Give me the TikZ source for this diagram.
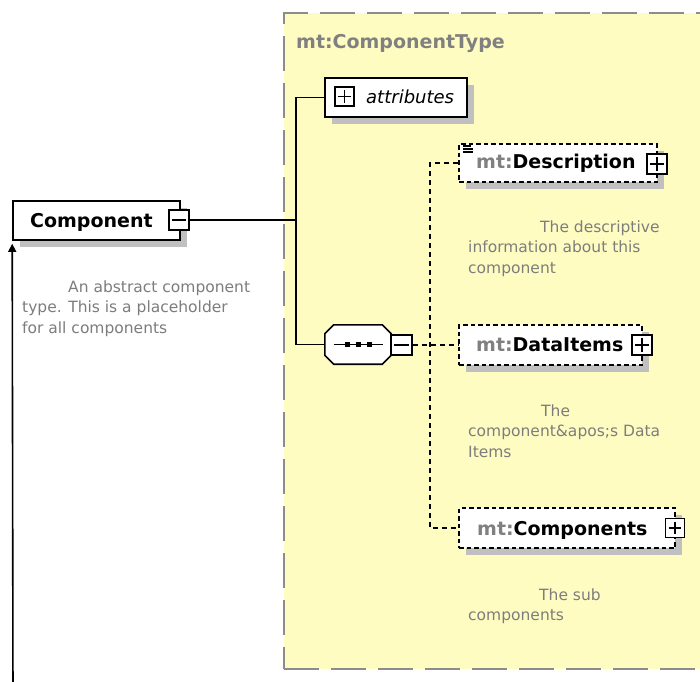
\documentclass[tikz,border=0pt]{standalone}
\usepackage{fontspec}
\setmainfont{DejaVu Sans}
\usetikzlibrary{arrows.meta,calc}

\definecolor{paneyellow}{RGB}{255,252,194}
\definecolor{paneborder}{RGB}{140,140,140}
\definecolor{shadowgray}{RGB}{192,192,192}
\definecolor{docgray}{RGB}{125,125,125}
\definecolor{prefixgray}{RGB}{128,128,128}

\tikzset{
  pane/.style={draw=paneborder, fill=paneyellow, line width=1.6pt,
    dash pattern=on 35pt off 12pt, inner sep=0pt},
  panetitle/.style={inner sep=0pt, text=prefixgray,
    font=\fontsize{19}{23}\selectfont\bfseries},
  boxshadow/.style={preaction={draw=none, fill=shadowgray,
    transform canvas={xshift=7pt, yshift=-7pt}}},
  elembox/.style={draw=black, fill=white, line width=1.6pt, inner sep=0pt,
    boxshadow},
  optbox/.style={elembox, dash pattern=on 4.5pt off 3pt},
  togglebox/.style={draw=black, fill=white, line width=1.5pt, inner sep=0pt,
    minimum width=20pt, minimum height=20pt},
  nametext/.style={inner sep=0pt, font=\fontsize{19}{23}\selectfont\bfseries},
  attrtext/.style={inner sep=0pt, font=\fontsize{18}{22}\selectfont\itshape},
  doctext/.style={inner sep=0pt, align=left, text=docgray,
    font=\fontsize{15.5}{20.5}\selectfont},
  link/.style={draw=black, line width=1.6pt},
  dashlink/.style={draw=black, line width=1.6pt, dash pattern=on 5pt off 4pt},
  signline/.style={line width=1.4pt},
}

% minus sign inside a toggle box
\newcommand\minussign[1]{%
  \draw[signline] ([xshift=4pt]#1.west) -- ([xshift=-4pt]#1.east);}
% plus sign inside a toggle box
\newcommand\plussign[1]{%
  \minussign{#1}
  \draw[signline] ([yshift=-4pt]#1.north) -- ([yshift=4pt]#1.south);}

\begin{document}
\begin{tikzpicture}[x=1pt, y=-1pt]
\useasboundingbox (0,0) rectangle (700,681);
\clip (0,0) rectangle (700,681);
\fill[white] (0,0) rectangle (700,681);

% complex type container
\node[pane, minimum width=436pt, minimum height=656pt] (pane) at (502,341) {};
\node[panetitle, anchor=base west] (panetitle) at (296,48) {mt:ComponentType};

% global element Component
\node[elembox, minimum width=167pt, minimum height=39pt] (comp) at (96.5,220.5) {};
\node[nametext, anchor=base west] (compname) at (30,227) {Component};
\node[togglebox] (compm) at (179,220) {};
\minussign{compm}
\node[doctext, anchor=north west] (compdoc) at (22,280.5)
  {\hspace*{46pt}An abstract component\\type. This is a placeholder\\for all components};

% attributes group
\node[elembox, minimum width=142pt, minimum height=39pt] (attr) at (396,97.5) {};
\node[togglebox, minimum width=19pt, minimum height=19pt] (attrp) at (344.5,96.5) {};
\plussign{attrp}
\node[attrtext, anchor=base west] (attrname) at (366,103) {attributes};

% sequence compositor
\node[minimum width=66pt, minimum height=39pt, inner sep=0pt] (seq) at (358,344.5) {};
\fill[shadowgray, shift={(7,7)}]
  ($(seq.north west)+(9,0)$) -- ($(seq.north east)+(-9,0)$) -- ($(seq.north east)+(0,9)$)
  -- ($(seq.south east)+(0,-9)$) -- ($(seq.south east)+(-9,0)$) -- ($(seq.south west)+(9,0)$)
  -- ($(seq.south west)+(0,-9)$) -- ($(seq.north west)+(0,9)$) -- cycle;
\draw[fill=white, line width=1.6pt]
  ($(seq.north west)+(9,0)$) -- ($(seq.north east)+(-9,0)$) -- ($(seq.north east)+(0,9)$)
  -- ($(seq.south east)+(0,-9)$) -- ($(seq.south east)+(-9,0)$) -- ($(seq.south west)+(9,0)$)
  -- ($(seq.south west)+(0,-9)$) -- ($(seq.north west)+(0,9)$) -- cycle;
\draw[line width=1.5pt] ($(seq.west)+(9,0)$) -- ($(seq.east)+(-8,0)$);
\foreach \dx in {-11,0,11}
  \fill ($(seq.center)+(\dx-2.5,-2.5)$) rectangle ++(5,5);
\node[togglebox, minimum width=21pt] (seqm) at (401.5,345) {};
\minussign{seqm}

% child element Description
\node[optbox, minimum width=198pt, minimum height=38pt] (desc) at (558,163) {};
\foreach \yy/\len in {146/8,149/10,152/10}
  \draw[line width=1.1pt] (463,\yy) -- ++(\len,0);
\node[nametext, anchor=base west] (descname) at (476,168)
  {{\color{prefixgray}mt:}Description};
\node[togglebox] (descp) at (657,164) {};
\plussign{descp}
\node[doctext, anchor=north west] (descdoc) at (468,220.5)
  {\hspace*{72pt}The descriptive\\information about this\\component};

% child element DataItems
\node[optbox, minimum width=183pt, minimum height=40pt] (items) at (550.5,345) {};
\node[nametext, anchor=base west] (itemsname) at (476,351)
  {{\color{prefixgray}mt:}DataItems};
\node[togglebox] (itemsp) at (642,345) {};
\plussign{itemsp}
\node[doctext, anchor=north west] (itemsdoc) at (468,404.5)
  {\hspace*{73pt}The\\component\&apos;s Data\\Items};

% child element Components
\node[optbox, minimum width=216pt, minimum height=40pt] (comps) at (567,528) {};
\node[nametext, anchor=base west] (compsname) at (477,535)
  {{\color{prefixgray}mt:}Components};
\node[togglebox, minimum width=19pt, minimum height=19pt] (compsp) at (675,528) {};
\plussign{compsp}
\node[doctext, anchor=north west] (compsdoc) at (468,588.5)
  {\hspace*{71pt}The sub\\components};

% connectors
\coordinate (trunk) at (296,220);
\draw[link] (compm.east) -- (trunk);
\draw[link] (attr.west) -| (trunk) |- (seq.west);
\coordinate (branch) at (430,345);
\draw[dashlink] (seqm.east) -- (items.west);
\draw[dashlink] (desc.west) -| (branch) |- (comps.west);

% recursion arrow back to Component
\coordinate (arrowfoot) at (13,700);
\draw[link, -{Triangle[length=8pt, width=8pt]}] (arrowfoot) -- ([yshift=-3pt]comp.south west);
\end{tikzpicture}
\end{document}
